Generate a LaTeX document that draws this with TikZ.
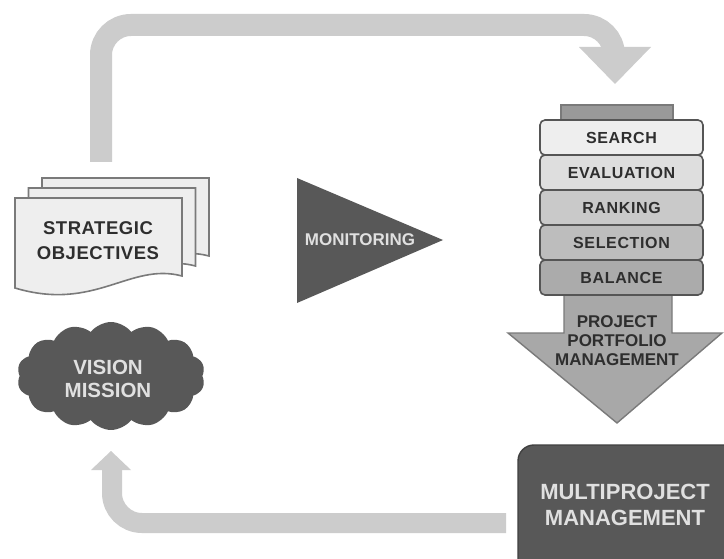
\documentclass[tikz,border=0pt]{standalone}
\usepackage{fontspec}
\setmainfont{Liberation Sans}
\usetikzlibrary{shapes.symbols}
\definecolor{arrowgray}{HTML}{CCCCCC}
\definecolor{darkfill}{HTML}{585858}
\definecolor{docfill}{HTML}{EEEEEE}
\definecolor{docline}{HTML}{7A7A7A}
\definecolor{boxline}{HTML}{555555}
\definecolor{txtdark}{HTML}{2E2E2E}
\definecolor{shaftfill}{HTML}{A8A8A8}
\definecolor{tabfill}{HTML}{999999}
\tikzset{
  band/.style={line width=22pt, draw=arrowgray, rounded corners=30pt},
  headfill/.style={fill=arrowgray},
  doc/.style={fill=docfill, draw=docline, line width=1.6pt},
  stepbox/.style={rectangle, rounded corners=5pt, draw=boxline, line width=1.6pt,
    minimum width=163pt, minimum height=35pt, inner sep=0pt,
    font=\fontsize{16}{18}\selectfont\bfseries\addfontfeatures{LetterSpace=4}, text=txtdark},
  whitelabel/.style={align=center, text=white!88!black, inner sep=0pt},
  darklabel/.style={align=center, text=txtdark, inner sep=0pt},
}
\begin{document}
\begin{tikzpicture}[x=1pt,y=-1pt]
\useasboundingbox (0,0) rectangle (724,559);
\clip (0,0) rectangle (724,559);
\fill[white] (0,0) rectangle (724,559);

% top feedback arrow
\coordinate (tstart) at (101,162);
\coordinate (tc1) at (101,25);
\coordinate (tc2) at (614,25);
\coordinate (tend) at (614,48);
\draw[band] (tstart) -- (tc1) -- (tc2) -- (tend);
\fill[headfill] (579,47) -- (651,47) -- (615,84) -- cycle;

% bottom feedback arrow
\coordinate (bstart) at (506,523);
\coordinate (bc1) at (112,523);
\coordinate (bend) at (112,468);
\draw[band, line width=20pt] (bstart) -- (bc1) -- (bend);
\fill[headfill] (91,470) -- (131,470) -- (111,451) -- cycle;

% strategic objectives documents
\foreach \dx/\dy in {27/-20, 13.5/-10, 0/0}{
  \draw[doc, shift={(\dx,\dy)}] (15,198) -- (182,198) -- (182,276)
     .. controls (130,262) and (95,312) .. (15,288) -- cycle;
}
\node[darklabel, font=\fontsize{18.5}{25}\selectfont\bfseries\addfontfeatures{LetterSpace=3}] (strat) at (98,241) {STRATEGIC\\OBJECTIVES};

% vision mission cloud
\node[cloud, cloud puffs=14, cloud puff arc=105, aspect=1.75, fill=darkfill,
      minimum width=188pt, minimum height=108pt, inner sep=0pt] (cloud) at (111,376) {};
\node[whitelabel, font=\fontsize{20.5}{23}\selectfont\bfseries] (vision) at (108,379) {VISION\\MISSION};

% monitoring triangle
\fill[darkfill] (297,178) -- (443,240) -- (297,303) -- cycle;
\node[whitelabel, font=\fontsize{17}{19}\selectfont\bfseries] (mon) at (360,240) {MONITORING};

% portfolio stack
\draw[fill=tabfill, draw=docline, line width=1.4pt] (561,105) rectangle (673,130);
\draw[fill=shaftfill, draw=docline, line width=1.4pt]
  (564,290) -- (672,290) -- (672,333) -- (722,333) -- (617,423) -- (508,333) -- (564,333) -- cycle;
\node[stepbox, fill=docfill] (search) at (621.5,137.5) {SEARCH};
\node[stepbox, fill=black!13] (eval) at (621.5,172.5) {EVALUATION};
\node[stepbox, fill=black!21] (rank) at (621.5,207.5) {RANKING};
\node[stepbox, fill=black!26] (sel) at (621.5,242.5) {SELECTION};
\node[stepbox, fill=black!33] (bal) at (621.5,277.5) {BALANCE};
\node[darklabel, font=\fontsize{17}{19}\selectfont\bfseries] (ppm) at (617,341) {PROJECT\\PORTFOLIO\\MANAGEMENT};

% multiproject management
\draw[fill=darkfill, draw=black!75, line width=1.4pt, rounded corners=16pt] (518,445) rectangle (745,585);
\node[whitelabel, font=\fontsize{22}{26}\selectfont\bfseries] (mpm) at (625,505) {MULTIPROJECT\\MANAGEMENT};
\end{tikzpicture}
\end{document}
